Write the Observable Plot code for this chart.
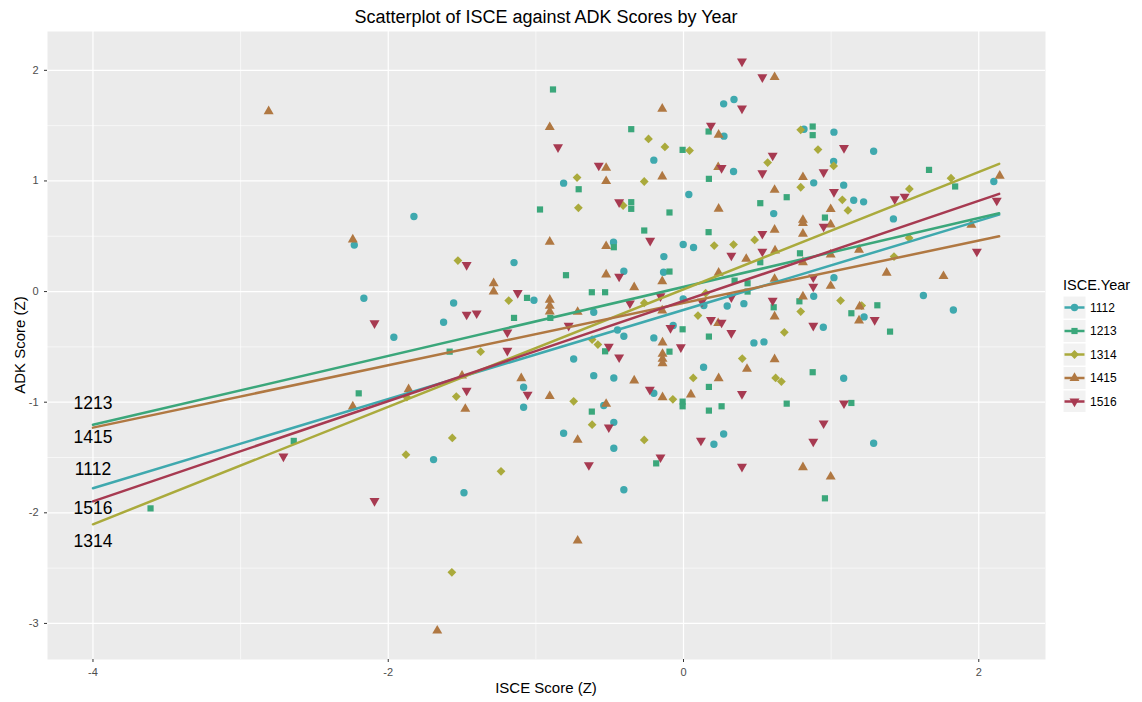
<!DOCTYPE html>
<html><head><meta charset="utf-8">
<script src="https://cdn.jsdelivr.net/npm/d3@7"></script>
<script src="https://cdn.jsdelivr.net/npm/@observablehq/plot@0.6"></script>
<style>
body{margin:0;background:#fff;font-family:"Liberation Sans",Arial,sans-serif;}
#wrap{position:relative;width:1142px;height:702px;overflow:hidden;}
#title{position:absolute;left:47px;width:998px;top:6px;text-align:center;font-size:18px;color:#000;line-height:22px;}
#chart{position:absolute;left:0;top:31px;}
#xlab{position:absolute;left:47px;width:998px;top:679px;text-align:center;font-size:15px;color:#000;}
#ylab{position:absolute;left:19px;top:345px;transform:translate(-50%,-50%) rotate(-90deg);font-size:15px;color:#000;white-space:nowrap;}
#legend{position:absolute;left:1055px;top:272px;}
</style></head>
<body>
<div id="wrap">
  <div id="title">Scatterplot of ISCE against ADK Scores by Year</div>
  <div id="chart"></div>
  <div id="xlab">ISCE Score (Z)</div>
  <div id="ylab">ADK Score (Z)</div>
  <div id="legend"></div>
</div>
<script>
// ---------- data ----------
const years = ["1112", "1213", "1314", "1415", "1516"];
const colors = ["#3fa9ae", "#3ba77b", "#aaaa3c", "#b07842", "#a73a51"];

const pts1112 = [[-2.23,0.42],[-2.165,-0.06],[-1.826,0.678],[-0.812,0.98],[0.272,1.697],[0.342,1.736],[0.274,1.405],[-0.201,1.188],[0.339,1.085],[0.611,0.705],[0.882,0.983],[0.816,1.468],[0.036,0.877],[-0.474,0.446],[-0.002,0.425],[0.068,0.398],[1.019,1.441],[1.288,1.269],[1.017,1.176],[1.085,0.962],[1.153,0.826],[1.22,0.811],[2.102,0.995],[1.422,0.657],[1.019,0.126],[1.625,-0.036],[1.828,-0.166],[1.223,-0.229],[0.947,-0.323],[1.085,-0.784],[1.288,-1.371],[-0.133,0.316],[-0.404,0.184],[-0.135,0.175],[0.882,-0.042],[-0.608,-0.187],[-0.002,-0.066],[0.138,-0.127],[0.296,-0.13],[0.409,-0.109],[0.477,-0.464],[0.545,-0.455],[-0.447,-0.347],[-0.404,-0.404],[-0.201,-0.419],[-0.07,-0.307],[-0.608,-0.76],[-0.472,-0.781],[-0.201,-0.919],[0.136,-0.684],[-0.54,-1.03],[-0.472,-1.182],[-0.472,-1.417],[0.206,-1.38],[0.272,-1.287],[-0.404,-1.791],[-1.148,0.262],[-1.013,-0.078],[-1.557,-0.103],[-1.625,-0.277],[-1.962,-0.413],[-0.744,-0.609],[-1.083,-0.865],[-1.083,-1.046],[-0.812,-1.281],[-1.693,-1.519],[-1.487,-1.818]];
const pts1213 = [[-2.2,-0.92],[-2.64,-1.35],[-3.61,-1.96],[-0.884,1.827],[-0.71,0.925],[-0.972,0.742],[-0.354,1.468],[0.17,1.447],[-0.006,1.281],[0.172,1.019],[0.699,0.853],[0.52,0.799],[0.875,1.492],[0.875,1.414],[-0.354,0.808],[-0.354,0.748],[-0.095,0.715],[-0.266,0.552],[0.17,0.537],[-0.472,0.401],[1.663,1.1],[1.84,0.95],[0.958,0.669],[1.313,-0.124],[1.137,-0.196],[1.399,-0.362],[1.137,-1.007],[0.789,0.346],[0.52,0.265],[-0.095,0.181],[0.346,0.099],[0.434,0.075],[0.434,0.0],[0.785,-0.088],[0.611,-0.142],[-0.621,-0.006],[-0.531,-0.006],[-0.006,-0.341],[0.172,-0.407],[-0.531,-0.54],[-0.095,-0.543],[0.172,-0.862],[0.875,-0.729],[-0.006,-0.995],[-0.006,-1.037],[0.258,-1.037],[0.172,-1.076],[0.699,-1.013],[-0.621,-1.085],[-0.185,-1.553],[-0.796,0.148],[-1.06,-0.057],[-0.902,-0.238],[-1.148,-0.238],[-1.584,-0.543],[0.958,-1.869]];
const pts1314 = [[-0.721,1.031],[-0.712,0.757],[-0.237,1.38],[-0.126,1.308],[0.041,1.275],[-0.266,0.995],[0.57,1.166],[0.794,0.943],[0.794,1.462],[0.911,1.284],[-0.409,0.778],[0.208,0.416],[0.339,0.425],[0.482,0.467],[1.017,1.136],[1.076,0.829],[1.114,0.733],[1.812,1.025],[1.53,0.928],[1.528,0.485],[1.426,0.316],[1.064,-0.081],[1.207,-0.127],[0.794,-0.181],[-0.266,-0.103],[0.15,-0.015],[0.098,-0.217],[0.683,-0.368],[-0.619,-0.434],[-0.58,-0.479],[-0.072,-0.974],[0.066,-0.781],[0.398,-0.606],[0.624,-0.781],[0.663,-0.814],[-0.619,-1.203],[-0.266,-1.341],[-1.528,0.28],[-1.184,-0.081],[-1.374,-0.543],[-0.744,-0.992],[-1.874,-0.955],[-1.539,-0.949],[-1.566,-1.323],[-1.88,-1.474],[-1.236,-1.625],[-1.569,-2.538]];
const pts1415 = [[-2.81,1.63],[-2.24,0.47],[-2.24,-1.04],[-0.906,1.486],[-0.906,0.45],[0.617,1.938],[-0.144,1.652],[0.238,1.417],[-0.524,1.118],[-0.524,0.998],[-0.144,1.04],[0.235,1.124],[0.617,0.919],[0.809,1.034],[0.238,0.748],[0.617,0.558],[0.809,0.648],[0.809,0.618],[0.809,0.522],[-0.524,0.41],[0.997,0.745],[0.997,0.606],[2.142,1.046],[1.95,0.603],[0.997,0.334],[1.189,0.377],[1.376,0.169],[1.761,0.139],[0.997,0.051],[1.193,-0.136],[1.189,-0.262],[0.62,0.371],[0.809,0.265],[0.425,0.295],[-0.524,0.154],[-0.144,0.093],[0.238,0.169],[0.617,0.114],[0.809,-0.045],[0.617,-0.226],[-0.334,0.039],[-0.144,-0.172],[0.235,-0.286],[-0.142,-0.461],[-0.142,-0.564],[-0.142,-0.609],[-0.142,-0.648],[-0.334,-0.805],[-0.142,-0.956],[0.05,-0.931],[0.238,-0.784],[0.43,-0.699],[0.617,-0.612],[-0.524,-1.016],[0.809,-1.589],[-1.286,0.075],[-1.286,0.0],[-0.906,-0.075],[-0.906,-0.13],[-0.906,-0.181],[-0.717,-0.184],[-1.5,-0.76],[-1.099,-0.784],[-0.906,-0.946],[-1.862,-0.883],[-1.478,-1.061],[-0.717,-1.341],[-0.717,-2.252],[-1.668,-3.066],[0.997,-1.673]];
const pts1516 = [[-2.71,-1.49],[-2.093,-0.286],[-0.85,1.305],[0.396,2.08],[0.534,1.938],[0.396,1.655],[0.186,1.501],[-0.574,1.139],[0.258,1.118],[0.534,1.07],[0.604,1.23],[0.949,1.079],[-0.436,0.808],[-0.226,0.46],[0.534,0.522],[1.087,1.299],[1.019,0.901],[0.949,0.588],[2.122,0.823],[1.431,0.835],[1.498,0.859],[1.987,0.362],[1.295,-0.256],[1.087,-1.01],[0.949,-1.191],[0.534,0.362],[0.324,0.325],[-0.436,0.136],[0.879,0.129],[0.879,0.045],[0.604,-0.081],[-0.363,-0.106],[-0.156,-0.042],[0.125,-0.091],[0.324,-0.051],[0.186,-0.256],[0.258,-0.28],[0.324,-0.374],[0.879,-0.308],[-0.506,-0.497],[-0.436,-0.594],[-0.088,-0.329],[-0.018,-0.503],[-0.228,-0.886],[0.396,-0.925],[-0.506,-1.227],[0.118,-1.347],[0.879,-1.356],[-0.641,-1.568],[-0.156,-1.498],[0.396,-1.583],[-1.469,0.241],[-1.123,-0.012],[-1.469,-0.208],[-1.401,-0.196],[-1.193,-0.368],[-0.778,-0.308],[-1.193,-0.534],[-1.056,-0.931],[-1.469,-0.895],[-2.093,-1.893]];

// fitted lines (start at x = -4, end at x = 2.138), y
const lineX = [-4, 2.138];
const lineStartY = [-1.778, -1.204, -2.104, -1.230, -1.896];
const lineEndY   = [0.696, 0.708, 1.155, 0.500, 0.883];

// direct labels at left
const labelText = ["1213", "1415", "1112", "1516", "1314"];
const labelY = [-1.007, -1.315, -1.611, -1.956, -2.259];

// axis ticks
const xMajor = [-4, -2, 0, 2];
const xMinor = [-3, -1, 1];
const yMajor = [-3, -2, -1, 0, 1, 2];
const yMinor = [-2.5, -1.5, -0.5, 0.5, 1.5];

// ---------- build tables ----------
const allPts = [pts1112, pts1213, pts1314, pts1415, pts1516];
const colorOf = Object.fromEntries(years.map((y, i) => [y, colors[i]]));
const pointData = years.map((yr, i) => allPts[i].map(([x, y]) => ({year: yr, x, y})));
const lineData = years.flatMap((yr, i) => [
  {year: yr, x: lineX[0], y: lineStartY[i]},
  {year: yr, x: lineX[1], y: lineEndY[i]}
]);
const labelData = labelText.map((t, i) => ({t, x: -4, y: labelY[i]}));

const symSpec = {
  "1112": {symbol: "circle", r: 3.7, rotate: 0},
  "1213": {symbol: "square", r: 3.5, rotate: 0},
  "1314": {symbol: "square", r: 3.5, rotate: 45},
  "1415": {symbol: "triangle", r: 3.7, rotate: 0},
  "1516": {symbol: "triangle", r: 3.7, rotate: 180}
};

const fmt = d => String(d);
const dotMarks = years.map((yr, i) => Plot.dot(pointData[i], {
  x: "x", y: "y", symbol: () => symSpec[yr].symbol, r: symSpec[yr].r,
  rotate: symSpec[yr].rotate, fill: colors[i], stroke: "none"
}));

const chart = Plot.plot({
  width: 1142, height: 671,
  marginLeft: 47, marginRight: 97, marginTop: 0, marginBottom: 43,
  x: {domain: [-4.308, 2.452]},
  y: {domain: [-3.326, 2.351]},
  symbol: {type: "identity"},
  style: {fontFamily: "'Liberation Sans', Arial, sans-serif", background: "#fff"},
  marks: [
    Plot.frame({fill: "#ebebeb", stroke: "none"}),
    Plot.ruleX(xMinor, {stroke: "#fff", strokeWidth: 0.6}),
    Plot.ruleY(yMinor, {stroke: "#fff", strokeWidth: 0.6}),
    Plot.ruleX(xMajor, {stroke: "#fff", strokeWidth: 1.2}),
    Plot.ruleY(yMajor, {stroke: "#fff", strokeWidth: 1.2}),
    Plot.axisX(xMajor, {tickSize: 3, tickPadding: 6, fontSize: 11, tickFormat: fmt, label: null, stroke: "#333", fill: "#4d4d4d"}),
    Plot.axisY(yMajor, {tickSize: 3, tickPadding: 6, fontSize: 11, tickFormat: fmt, label: null, stroke: "#333", fill: "#4d4d4d"}),
    ...dotMarks,
    Plot.line(lineData, {x: "x", y: "y", z: "year", stroke: d => colorOf[d.year], strokeWidth: 2.5}),
    Plot.text(labelData, {x: "x", y: "y", text: "t", fontSize: 17.5, fill: "#000", textAnchor: "middle"})
  ],
  color: {type: "identity"}
});
document.getElementById("chart").appendChild(chart);

// ---------- legend ----------
const lg = d3.select("#legend").append("svg").attr("width", 87).attr("height", 140)
  .style("font-family", "'Liberation Sans', Arial, sans-serif");
lg.append("text").attr("x", 8).attr("y", 18).attr("font-size", 14.5).attr("fill", "#000").text("ISCE.Year");
years.forEach((yr, i) => {
  const g = lg.append("g").attr("transform", `translate(8,${24 + i * 23.5})`);
  g.append("rect").attr("width", 23).attr("height", 23).attr("fill", "#f2f2f2").attr("stroke", "#fff");
  g.append("line").attr("x1", 1.5).attr("x2", 21.5).attr("y1", 11.5).attr("y2", 11.5)
    .attr("stroke", colors[i]).attr("stroke-width", 2.5);
  const s = symSpec[yr];
  const sym = s.symbol === "circle" ? d3.symbolCircle : s.symbol === "square" ? d3.symbolSquare : d3.symbolTriangle;
  g.append("path").attr("d", d3.symbol(sym, Math.PI * s.r * s.r)())
    .attr("transform", `translate(11.5,11.5) rotate(${s.rotate})`).attr("fill", colors[i]);
  g.append("text").attr("x", 27).attr("y", 15.5).attr("font-size", 12).attr("fill", "#000").text(yr);
});
</script>
</body></html>
